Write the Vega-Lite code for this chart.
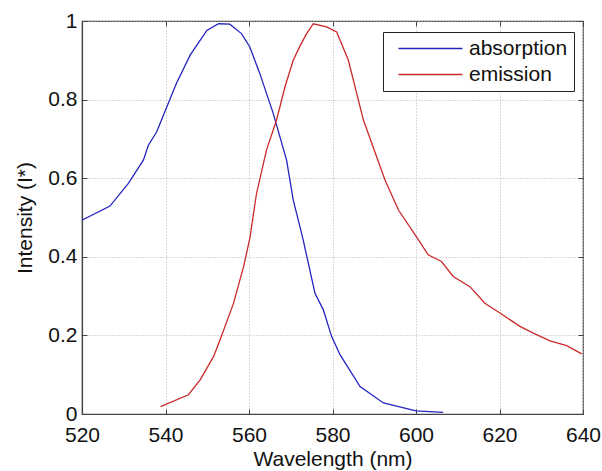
{
  "$schema": "https://vega.github.io/schema/vega-lite/v6.json",
  "width": 501,
  "height": 393,
  "autosize": "none",
  "padding": {"left": 82, "top": 21, "right": 19, "bottom": 57},
  "background": "white",
  "config": {
    "font": "Liberation Sans",
    "view": {"stroke": "#444444", "strokeWidth": 1.2},
    "axis": {
      "labelFont": "Liberation Sans",
      "titleFont": "Liberation Sans",
      "labelFontSize": 21,
      "titleFontSize": 21,
      "titleFontWeight": "normal",
      "labelColor": "#111111",
      "titleColor": "#111111",
      "domainColor": "#444444",
      "domainWidth": 1.2,
      "tickColor": "#444444",
      "tickSize": -5,
      "gridColor": "#b4b4b4",
      "gridDash": [1, 2],
      "gridWidth": 1,
      "gridOpacity": 1
    }
  },
  "data": {
    "values": [
      {"series": "absorption", "wl": 520, "v": 0.493},
      {"series": "absorption", "wl": 526.7, "v": 0.529},
      {"series": "absorption", "wl": 531.1, "v": 0.587},
      {"series": "absorption", "wl": 534.7, "v": 0.646},
      {"series": "absorption", "wl": 535.9, "v": 0.684},
      {"series": "absorption", "wl": 537.9, "v": 0.718},
      {"series": "absorption", "wl": 539.5, "v": 0.760},
      {"series": "absorption", "wl": 542.6, "v": 0.841},
      {"series": "absorption", "wl": 545.9, "v": 0.913},
      {"series": "absorption", "wl": 549.9, "v": 0.976},
      {"series": "absorption", "wl": 552.7, "v": 0.993},
      {"series": "absorption", "wl": 555.4, "v": 0.992},
      {"series": "absorption", "wl": 558.2, "v": 0.968},
      {"series": "absorption", "wl": 560.2, "v": 0.934},
      {"series": "absorption", "wl": 562.6, "v": 0.866},
      {"series": "absorption", "wl": 565.8, "v": 0.765},
      {"series": "absorption", "wl": 569.0, "v": 0.646},
      {"series": "absorption", "wl": 570.6, "v": 0.544},
      {"series": "absorption", "wl": 572.2, "v": 0.477},
      {"series": "absorption", "wl": 573.0, "v": 0.442},
      {"series": "absorption", "wl": 575.8, "v": 0.307},
      {"series": "absorption", "wl": 577.8, "v": 0.265},
      {"series": "absorption", "wl": 579.8, "v": 0.197},
      {"series": "absorption", "wl": 581.8, "v": 0.151},
      {"series": "absorption", "wl": 586.6, "v": 0.070},
      {"series": "absorption", "wl": 592.2, "v": 0.028},
      {"series": "absorption", "wl": 600.0, "v": 0.008},
      {"series": "absorption", "wl": 606.5, "v": 0.004},
      {"series": "emission", "wl": 538.8, "v": 0.019},
      {"series": "emission", "wl": 545.5, "v": 0.049},
      {"series": "emission", "wl": 548.3, "v": 0.087},
      {"series": "emission", "wl": 551.5, "v": 0.146},
      {"series": "emission", "wl": 553.5, "v": 0.201},
      {"series": "emission", "wl": 556.3, "v": 0.282},
      {"series": "emission", "wl": 558.7, "v": 0.375},
      {"series": "emission", "wl": 560.2, "v": 0.447},
      {"series": "emission", "wl": 561.8, "v": 0.561},
      {"series": "emission", "wl": 564.2, "v": 0.672},
      {"series": "emission", "wl": 566.6, "v": 0.748},
      {"series": "emission", "wl": 568.6, "v": 0.832},
      {"series": "emission", "wl": 570.6, "v": 0.900},
      {"series": "emission", "wl": 572.2, "v": 0.936},
      {"series": "emission", "wl": 573.8, "v": 0.968},
      {"series": "emission", "wl": 575.4, "v": 0.993},
      {"series": "emission", "wl": 578.6, "v": 0.985},
      {"series": "emission", "wl": 581.0, "v": 0.972},
      {"series": "emission", "wl": 583.8, "v": 0.900},
      {"series": "emission", "wl": 587.4, "v": 0.748},
      {"series": "emission", "wl": 592.6, "v": 0.595},
      {"series": "emission", "wl": 595.8, "v": 0.519},
      {"series": "emission", "wl": 600.6, "v": 0.443},
      {"series": "emission", "wl": 602.9, "v": 0.405},
      {"series": "emission", "wl": 606.1, "v": 0.388},
      {"series": "emission", "wl": 608.9, "v": 0.350},
      {"series": "emission", "wl": 612.9, "v": 0.324},
      {"series": "emission", "wl": 616.5, "v": 0.282},
      {"series": "emission", "wl": 620.1, "v": 0.257},
      {"series": "emission", "wl": 624.9, "v": 0.223},
      {"series": "emission", "wl": 628.1, "v": 0.206},
      {"series": "emission", "wl": 632.1, "v": 0.186},
      {"series": "emission", "wl": 636.1, "v": 0.174},
      {"series": "emission", "wl": 639.7, "v": 0.153}
    ]
  },
  "layer": [
    {
      "mark": {"type": "line", "strokeWidth": 0, "opacity": 0},
      "encoding": {
        "x": {"field": "wl", "type": "quantitative", "scale": {"domain": [520, 640], "nice": false, "zero": false},
              "axis": {"orient": "top", "labels": false, "title": null, "grid": false, "domain": false, "values": [520, 540, 560, 580, 600, 620, 640]}},
        "y": {"field": "v", "type": "quantitative", "scale": {"domain": [0, 1], "nice": false},
              "axis": {"orient": "right", "labels": false, "title": null, "grid": false, "domain": false, "values": [0, 0.2, 0.4, 0.6, 0.8, 1]}},
        "detail": {"field": "series"}
      }
    },
    {
      "mark": {"type": "line", "strokeWidth": 1.3, "clip": true},
      "encoding": {
        "x": {"field": "wl", "type": "quantitative",
              "axis": {"orient": "bottom", "title": "Wavelength (nm)", "values": [520, 540, 560, 580, 600, 620, 640], "labelPadding": 15, "titlePadding": 3, "labelFlush": false, "grid": true}},
        "y": {"field": "v", "type": "quantitative",
              "axis": {"orient": "left", "title": "Intensity (I*)", "values": [0, 0.2, 0.4, 0.6, 0.8, 1], "labelPadding": 10, "titlePadding": 12, "labelFlush": false, "grid": true, "labelExpr": "datum.value == 0 || datum.value == 1 ? format(datum.value, 'd') : format(datum.value, '.1f')"}},
        "color": {"field": "series", "type": "nominal",
                  "scale": {"domain": ["absorption", "emission"], "range": ["#2424c0", "#cc2a2a"]},
                  "legend": {"orient": "none", "legendX": 301, "legendY": 11, "title": null,
                             "symbolType": "M-4,0H4", "symbolSize": 256, "symbolStrokeWidth": 1.3,
                             "symbolOffset": 31,
                             "labelFontSize": 21, "labelFont": "Liberation Sans", "labelColor": "#111111",
                             "labelOffset": 28, "rowPadding": 4, "padding": 6,
                             "strokeColor": "#222222", "fillColor": "white"}}
      }
    }
  ],
  "resolve": {"axis": {"x": "independent", "y": "independent"}}
}
